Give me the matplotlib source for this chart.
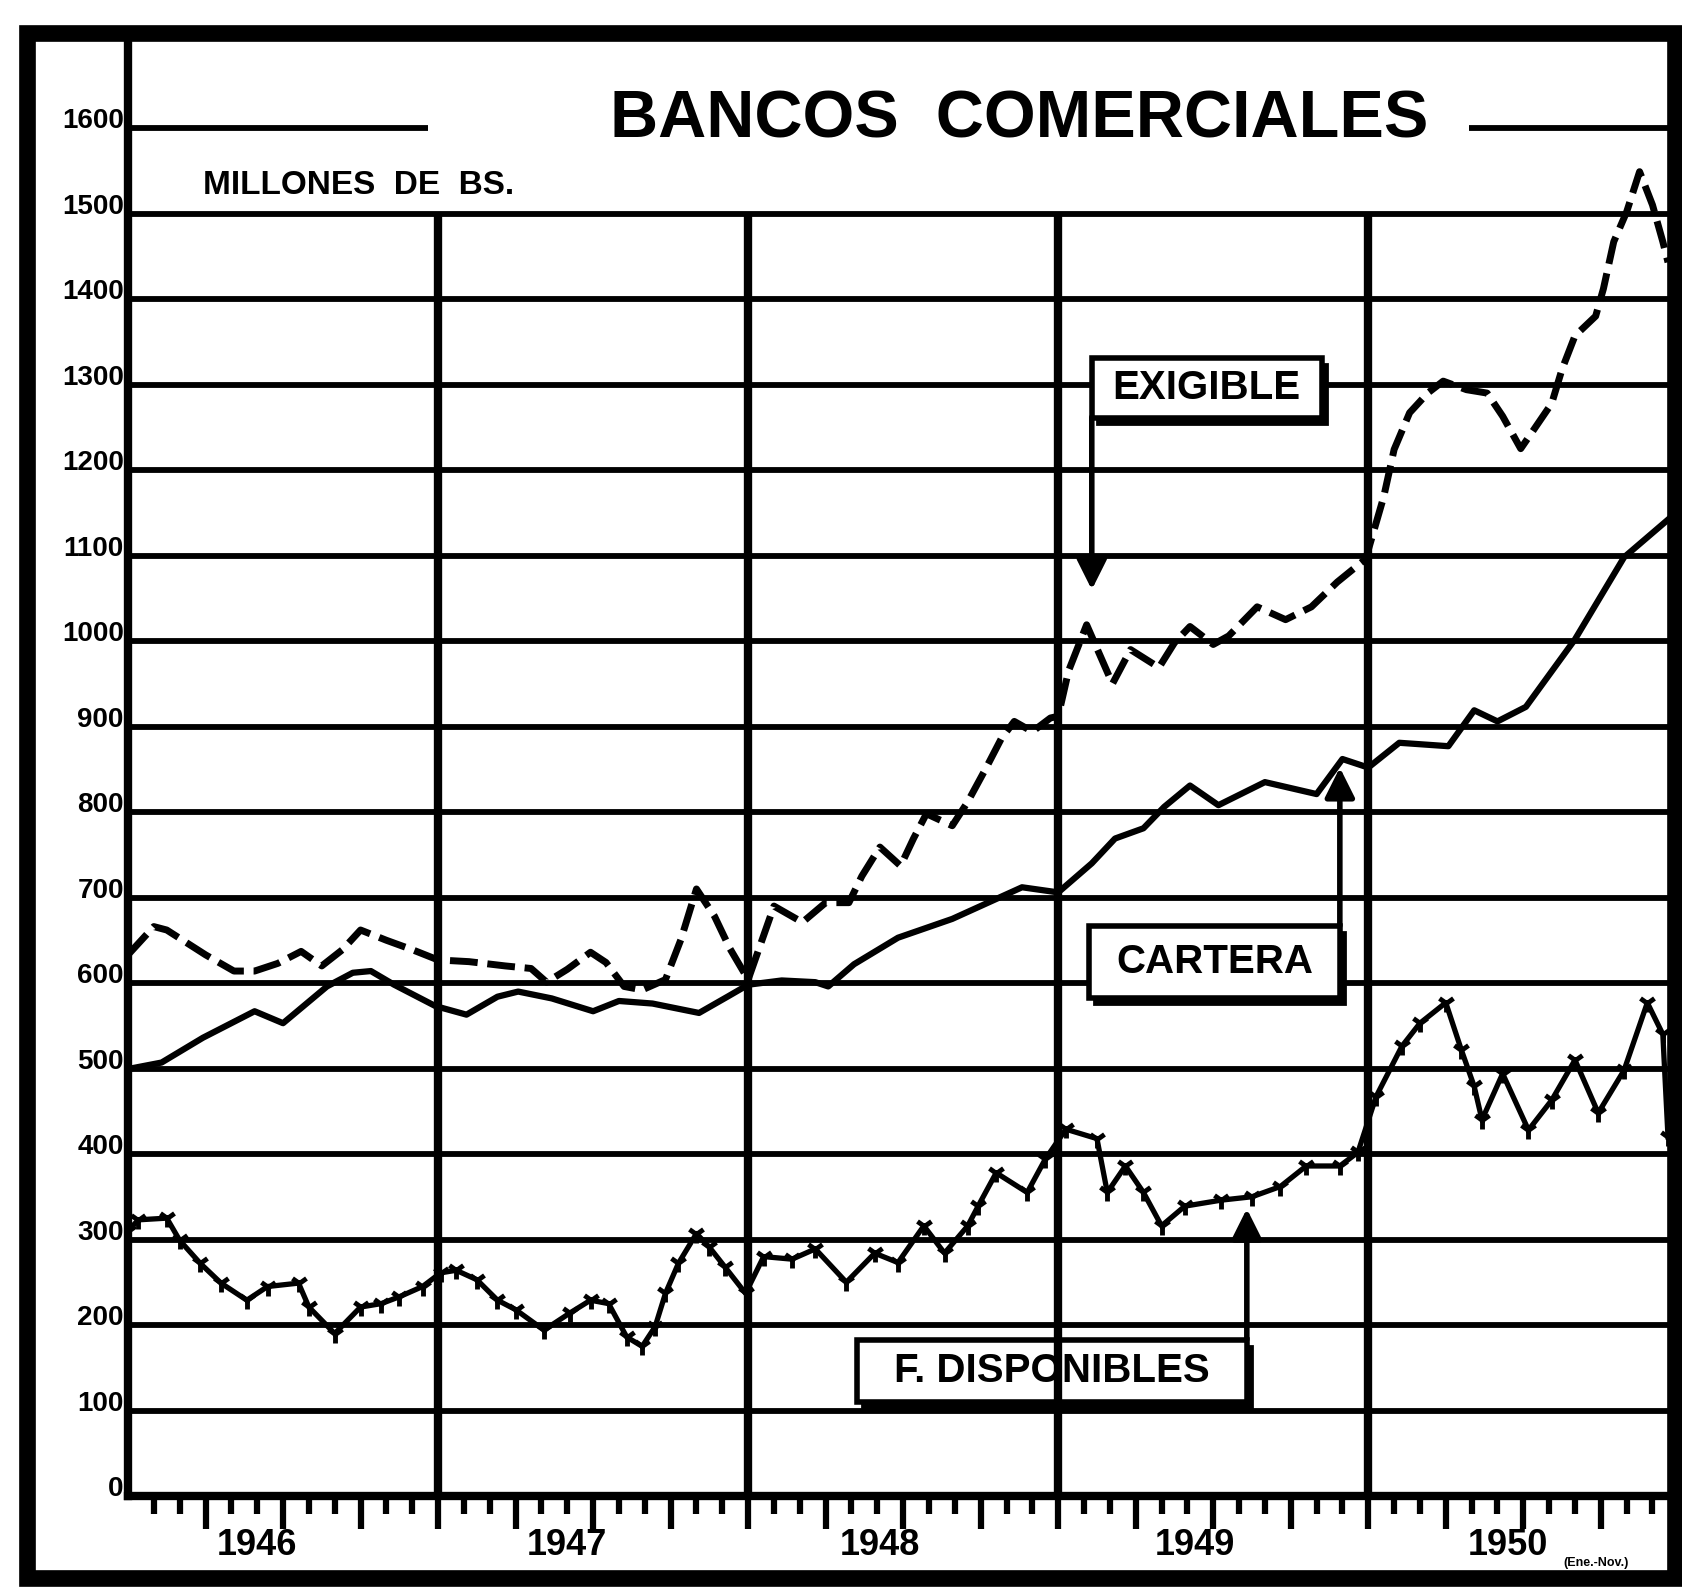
import matplotlib
matplotlib.use('Agg')
import matplotlib.pyplot as plt
from matplotlib.patches import Rectangle
from matplotlib.transforms import blended_transform_factory

plt.rcParams['font.family'] = ['Liberation Sans', 'DejaVu Sans']
plt.rcParams['font.weight'] = 'bold'

# x = months counted from January 1946, y = millones de Bs.
exigible_x = [0, 1.0, 1.5, 3.0, 4.1, 4.9, 5.8, 6.7, 7.5, 8.3, 9.0, 10.0, 11.0, 12.0,
              13.2, 14.6, 15.6, 16.2, 17.0, 17.9, 18.5, 19.2, 19.9, 20.8, 21.4, 22.0,
              22.7, 23.3, 24.0, 25.0, 26.1, 27.0, 27.9, 28.4, 29.1, 29.9, 30.4, 30.9,
              31.9, 32.5, 33.2, 33.8, 34.3, 35.0, 35.7, 36.0, 36.4, 37.1, 38.1, 38.8,
              39.9, 40.5, 41.1, 42.0, 42.6, 43.7, 44.8, 45.8, 46.8, 47.9, 48.6, 49.0,
              49.6, 50.3, 50.9, 51.8, 52.6, 53.2, 53.9, 54.4, 55.1, 55.5, 56.0, 56.8,
              57.1, 57.5, 58.0, 58.5, 59.0, 59.4, 59.6]
exigible_y = [633, 666, 662, 633, 614, 614, 623, 637, 620, 639, 662, 650, 639, 627,
              625, 620, 617, 601, 616, 636, 624, 596, 592, 604, 651, 710,
              678, 640, 604, 690, 671, 694, 694, 725, 759, 737, 769, 798,
              784, 812, 851, 886, 906, 894, 910, 912, 965, 1019, 950, 990,
              969, 998, 1017, 996, 1006, 1040, 1025, 1040, 1069, 1096, 1169, 1224,
              1267, 1290, 1304, 1294, 1290, 1263, 1225, 1247, 1278, 1318, 1357, 1380,
              1412, 1467, 1502, 1549, 1510, 1467, 1443]

cartera_x = [0.1, 1.3, 2.9, 4.9, 6.0, 7.7, 8.7, 9.4, 10.3, 11.9, 13.1, 14.3, 15.1,
             16.4, 18.0, 19.0, 20.3, 22.1, 23.2, 24.0, 25.3, 26.6, 27.1, 28.1, 29.8,
             31.9, 34.6, 36.0, 37.3, 38.2, 39.3, 40.1, 41.1, 42.2, 44.0, 46.0, 47.0,
             48.0, 49.2, 51.1, 52.1, 53.0, 54.1, 56.0, 57.9, 59.6]
cartera_y = [500, 507, 536, 567, 553, 596, 612, 614, 598, 573, 563, 584, 590,
             582, 567, 579, 576, 565, 584, 598, 603, 601, 596, 622, 653,
             675, 712, 706, 740, 769, 781, 806, 831, 808, 835, 821, 862,
             852, 881, 877, 919, 906, 923, 1002, 1098, 1142]

disponibles_x = [0.0, 0.4, 1.5, 2.0, 2.8, 3.6, 4.6, 5.4, 6.6, 7.0, 8.0, 9.0, 9.8,
                 10.5, 11.4, 12.1, 12.7, 13.5, 14.3, 15.0, 16.1, 17.1, 17.9, 18.6,
                 19.3, 19.9, 20.4, 20.8, 21.3, 22.0, 22.5, 23.1, 23.9, 24.6, 25.7,
                 26.6, 27.8, 28.9, 29.8, 30.8, 31.6, 32.5, 32.9, 33.6, 34.8, 35.5,
                 36.3, 37.5, 37.9, 38.6, 39.3, 40.0, 40.9, 42.3, 43.5, 44.6, 45.6,
                 46.9, 47.6, 48.3, 49.3, 50.0, 51.0, 51.6, 52.1, 52.4, 53.2, 54.2,
                 55.1, 56.0, 56.9, 57.9, 58.8, 59.4, 59.6]
disponibles_y = [310, 323, 325, 299, 272, 249, 229, 245, 249, 221, 190, 221, 225,
                 233, 245, 261, 264, 253, 229, 218, 194, 214, 229, 225,
                 186, 175, 198, 237, 272, 307, 291, 268, 237, 280, 277,
                 289, 250, 284, 273, 316, 284, 316, 339, 378, 355, 394,
                 429, 418, 355, 386, 355, 316, 339, 346, 350, 362, 386,
                 386, 402, 467, 526, 553, 577, 522, 479, 440, 494, 428,
                 463, 510, 448, 498, 577, 540, 420]

y_ticks = list(range(0, 1700, 100))
y_labels = [str(v) for v in y_ticks]
years = ['1946', '1947', '1948', '1949', '1950']
year_label_x = [5.0, 17.0, 29.1, 41.3, 53.4]
year_ends = [12, 24, 36, 48]

fig = plt.figure(figsize=(16.82, 15.87), dpi=100)
ax = fig.add_axes([128 / 1682, 1 - 1496 / 1587, 1540 / 1682, 1456 / 1587])
ax.set_xlim(0, 59.6)
ax.set_ylim(0, 1703)

# grid
ax.hlines(range(100, 1600, 100), 0, 59.6, color='black', lw=4.2, zorder=1)
ax.hlines(1600, 0, 11.6, color='black', lw=4.2, zorder=1)
ax.hlines(1600, 51.9, 59.6, color='black', lw=4.2, zorder=1)
ax.vlines(year_ends, 0, 1500, color='black', lw=6, zorder=4)

# series
ax.plot(exigible_x, exigible_y, color='black', lw=5, ls=(0, (4, 1.4)), zorder=5)
ax.plot(cartera_x, cartera_y, color='black', lw=4.5, zorder=5)
ax.plot(disponibles_x, disponibles_y, color='black', lw=3.8, marker='1',
        ms=13, mew=3.5, zorder=5)

# labelled boxes with arrows
def label_box(x0, x1, y0, y1, text, size):
    ax.add_patch(Rectangle((x0 + 0.2, y0 - 7), x1 - x0, y1 - y0, fc='black',
                           ec='black', lw=2, zorder=2.9))
    ax.add_patch(Rectangle((x0, y0), x1 - x0, y1 - y0, fc='white', ec='black',
                           lw=4, zorder=3))
    ax.text((x0 + x1) / 2, (y0 + y1) / 2, text, ha='center', va='center',
            fontsize=size, fontweight='bold', zorder=3.5)

arrow = dict(arrowstyle='-|>', lw=4, color='black', mutation_scale=45,
             shrinkA=0, shrinkB=0)

label_box(37.3, 46.2, 1261, 1331, 'EXIGIBLE', 29)
ax.annotate('', xy=(37.3, 1060), xytext=(37.3, 1262), arrowprops=arrow, zorder=6)

label_box(37.2, 46.9, 582, 667, 'CARTERA', 29)
ax.annotate('', xy=(46.9, 852), xytext=(46.9, 667), arrowprops=arrow, zorder=6)

label_box(28.2, 43.3, 110, 183, 'F. DISPONIBLES', 29)
ax.annotate('', xy=(43.3, 336), xytext=(43.3, 183), arrowprops=arrow, zorder=6)

# titles
ax.text(34.5, 1609, 'BANCOS  COMERCIALES', ha='center', va='center',
        fontsize=48, fontweight='bold')
ax.text(2.9, 1533, 'MILLONES  DE  BS.', ha='left', va='center', fontsize=24,
        fontweight='bold')

# axes
for side in ['top', 'right']:
    ax.spines[side].set_visible(False)
ax.spines['left'].set_linewidth(6)
ax.spines['bottom'].set_linewidth(6)

ax.set_yticks(y_ticks)
ax.set_yticklabels(y_labels, fontsize=20, fontweight='bold', va='baseline')
ax.tick_params(axis='y', length=0, pad=3)

ax.set_xticks(range(3, 60, 3))
ax.set_xticks(range(1, 60), minor=True)
ax.set_xticklabels([])
ax.tick_params(axis='x', which='major', length=24, width=4.5, direction='out')
ax.tick_params(axis='x', which='minor', length=13, width=4.5, direction='out')

trans = blended_transform_factory(ax.transData, ax.transAxes)
for xpos, year in zip(year_label_x, years):
    ax.text(xpos, -0.034, year, transform=trans, ha='center', va='center',
            fontsize=26, fontweight='bold')

fig.text(1563 / 1682, 1 - 1563 / 1587, '(Ene.-Nov.)', fontsize=9,
         fontweight='bold', ha='left', va='center')

# outer frame
fig.patches.append(Rectangle((27 / 1682, 1 - 1578 / 1587), 1648 / 1682,
                             1545 / 1587, transform=fig.transFigure,
                             fill=False, ec='black', lw=12))

plt.savefig('out.png', dpi=100)
